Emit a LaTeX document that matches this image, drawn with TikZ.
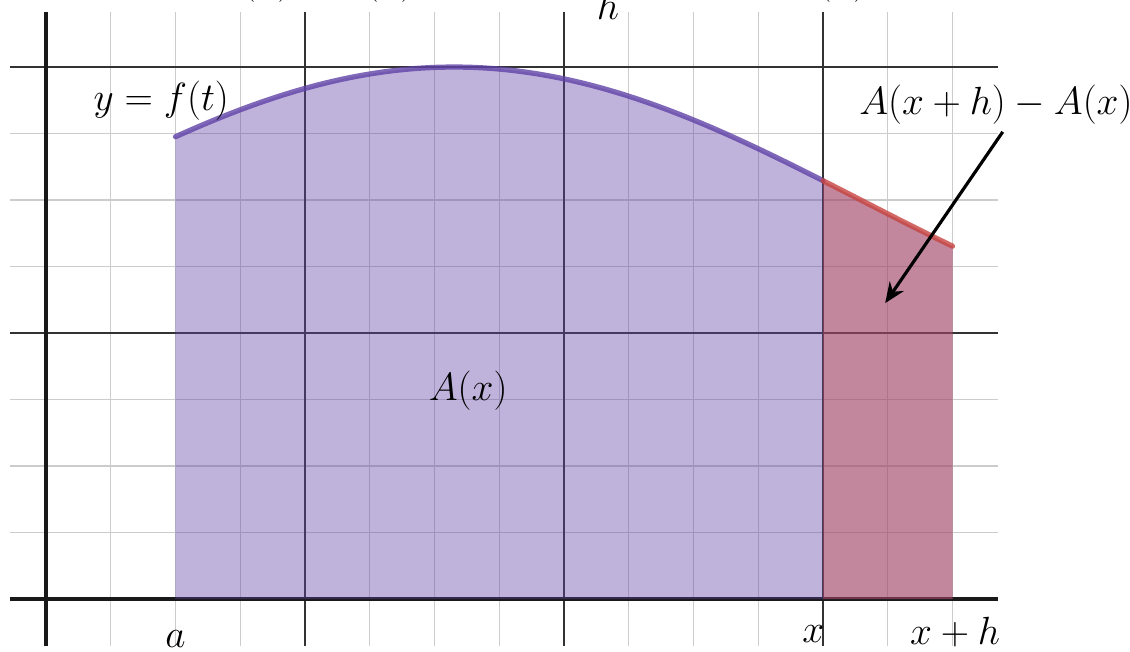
\documentclass[tikz,border=0pt]{standalone}
\usepackage{amsmath}
\usepackage{tikz}
\usetikzlibrary{arrows.meta, calc, positioning}
\definecolor{mypurple}{HTML}{6042A6}
\definecolor{myred}{HTML}{C74440}

\begin{document}
\begin{tikzpicture}[x=1cm, y=1.027cm,
    minorline/.style={black!20, line width=0.55pt},
    majorline/.style={black!80, line width=0.65pt},
    axisline/.style={black!90, line width=1.9pt},
    curveline/.style={line width=2.3pt, line cap=round, draw opacity=0.8},
    areafill/.style={fill opacity=0.4},
    lbl/.style={font=\fontsize{17.5}{20}\selectfont, inner sep=1pt},
    declare function={fcurve(\t)=6+2*cos(14.324*(\t-6.3));}]
    % Frame of the picture
    \useasboundingbox (-0.710,-0.782) rectangle (16.741,9.008);

    % Grid
    \foreach \i in {1,2,3,5,6,7,9,10,11,13,14}
        \draw[minorline] (\i,-0.7) -- (\i,8.83);
    \foreach \j in {1,2,3,5,6,7}
        \draw[minorline] (-0.556,\j) -- (14.7,\j);
    \foreach \i in {4,8,12}
        \draw[majorline] (\i,-0.7) -- (\i,8.83);
    \foreach \j in {4,8}
        \draw[majorline] (-0.556,\j) -- (14.7,\j);

    % Axes
    \draw[axisline] (0,-0.7) -- (0,8.83);
    \draw[axisline] (-0.556,0) -- (14.7,0);

    % Area under the curve: a -> x+h (purple), x -> x+h (red on top)
    \fill[mypurple, areafill] (2,0) -- plot[domain=2:14, samples=60] (\x,{fcurve(\x)}) -- (14,0) -- cycle;
    \fill[myred, areafill] (12,0) -- plot[domain=12:14, samples=20] (\x,{fcurve(\x)}) -- (14,0) -- cycle;

    % Curve y = f(t)
    \draw[mypurple, curveline] plot[domain=2:12, samples=60] (\x,{fcurve(\x)});
    \draw[myred, curveline] plot[domain=12:14, samples=20] (\x,{fcurve(\x)});

    % Labels
    \node[lbl] (fty) at (1.78,7.50) {$y=f(t)$};
    \node[lbl] (area) at (6.52,3.14) {$A(x)$};
    \node[lbl] (diff) at (14.67,7.43) {$A(x+h)-A(x)$};
    \node[lbl] (alab) at (2,-0.6) {$a$};
    \node[lbl] (xlab) at (11.85,-0.52) {$x$};
    \node[lbl] (xhlab) at (14.04,-0.50) {$x+h$};

    % Arrow into the red strip
    \coordinate (tip) at (12.96,4.45);
    \draw[-{Stealth[length=9pt,width=7.5pt]}, line width=1.4pt] ([xshift=3pt,yshift=-2pt]diff.south) -- (tip);

    % Formula running off the top edge
    \node[lbl, anchor=south, inner sep=0pt] (ratio) at (8.68,8.707) {$\dfrac{A(x+h)-A(x)}{h}$};
    \node[lbl, anchor=base east, inner sep=0pt] (deriv) at (5.70,9.12) {$A'(x)=f(x)$};
    \node[lbl, anchor=base west, inner sep=0pt] (approx) at ([xshift=2pt]ratio.base east) {$\approx f(x)$};
\end{tikzpicture}
\end{document}
